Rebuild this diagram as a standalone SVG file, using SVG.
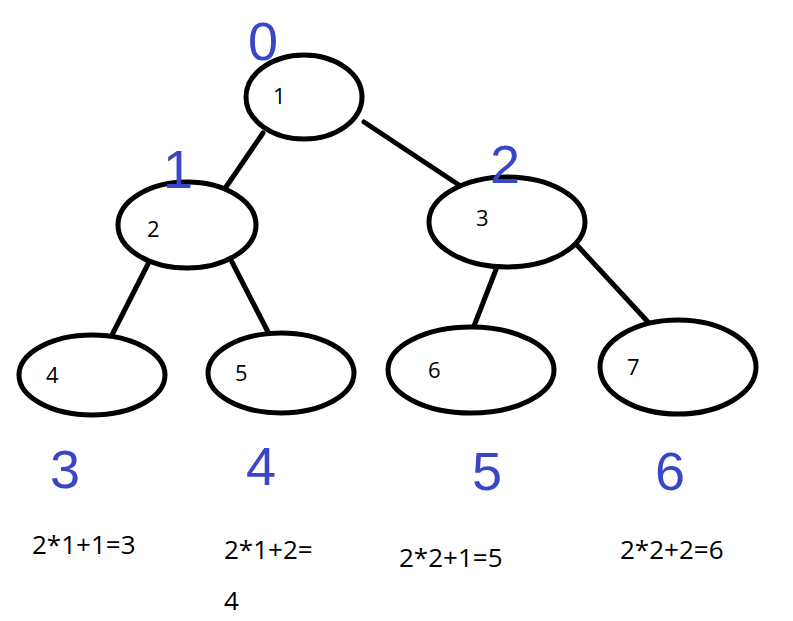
<svg xmlns="http://www.w3.org/2000/svg" width="793" height="621" viewBox="0 0 793 621">
<style>
.n{fill:#fff;stroke:#000;stroke-width:5}
.e{stroke:#000;stroke-width:5;stroke-linecap:round}
.t{font-family:"Open Sans","Liberation Sans",sans-serif;font-size:22px;fill:#000}
.f{font-family:"Open Sans","Liberation Sans",sans-serif;font-size:26px;fill:#000}
.b{font-family:"Liberation Sans",sans-serif;font-size:54px;fill:#3a46c8}
</style>
<rect width="793" height="621" fill="#fff"/>
<g id="edges">
<line class="e" x1="263" y1="133" x2="226" y2="187"/>
<line class="e" x1="364" y1="122" x2="462" y2="187"/>
<line class="e" x1="148" y1="264" x2="112" y2="335"/>
<line class="e" x1="232" y1="262" x2="268" y2="332"/>
<line class="e" x1="497" y1="267" x2="474" y2="326"/>
<line class="e" x1="575" y1="243" x2="648" y2="322"/>
</g>
<g id="n1"><ellipse class="n" cx="304" cy="97" rx="58" ry="42"/><text class="t" x="273" y="104">1</text></g>
<g id="n2"><ellipse class="n" cx="187" cy="225" rx="69" ry="43"/><text class="t" x="147" y="237">2</text></g>
<g id="n3"><ellipse class="n" cx="507" cy="222" rx="78" ry="45"/><text class="t" x="476" y="226">3</text></g>
<g id="n4"><ellipse class="n" cx="92" cy="375" rx="73" ry="40"/><text class="t" x="46" y="383">4</text></g>
<g id="n5"><ellipse class="n" cx="281" cy="373" rx="73" ry="40"/><text class="t" x="235" y="381">5</text></g>
<g id="n6"><ellipse class="n" cx="471" cy="370" rx="83" ry="43"/><text class="t" x="428" y="378">6</text></g>
<g id="n7"><ellipse class="n" cx="678" cy="367" rx="78" ry="47"/><text class="t" x="627" y="375">7</text></g>
<g id="labels">
<text class="b" x="248" y="60">0</text>
<text class="b" x="163" y="188">1</text>
<text class="b" x="490" y="183">2</text>
<text class="b" x="50" y="488">3</text>
<text class="b" x="246" y="485">4</text>
<text class="b" x="472" y="490">5</text>
<text class="b" x="655" y="490">6</text>
<text class="f" x="32" y="554">2*1+1=3</text>
<text class="f" x="224" y="559">2*1+2=</text>
<text class="f" x="224" y="610">4</text>
<text class="f" x="399" y="567">2*2+1=5</text>
<text class="f" x="620" y="559">2*2+2=6</text>
</g>
</svg>
